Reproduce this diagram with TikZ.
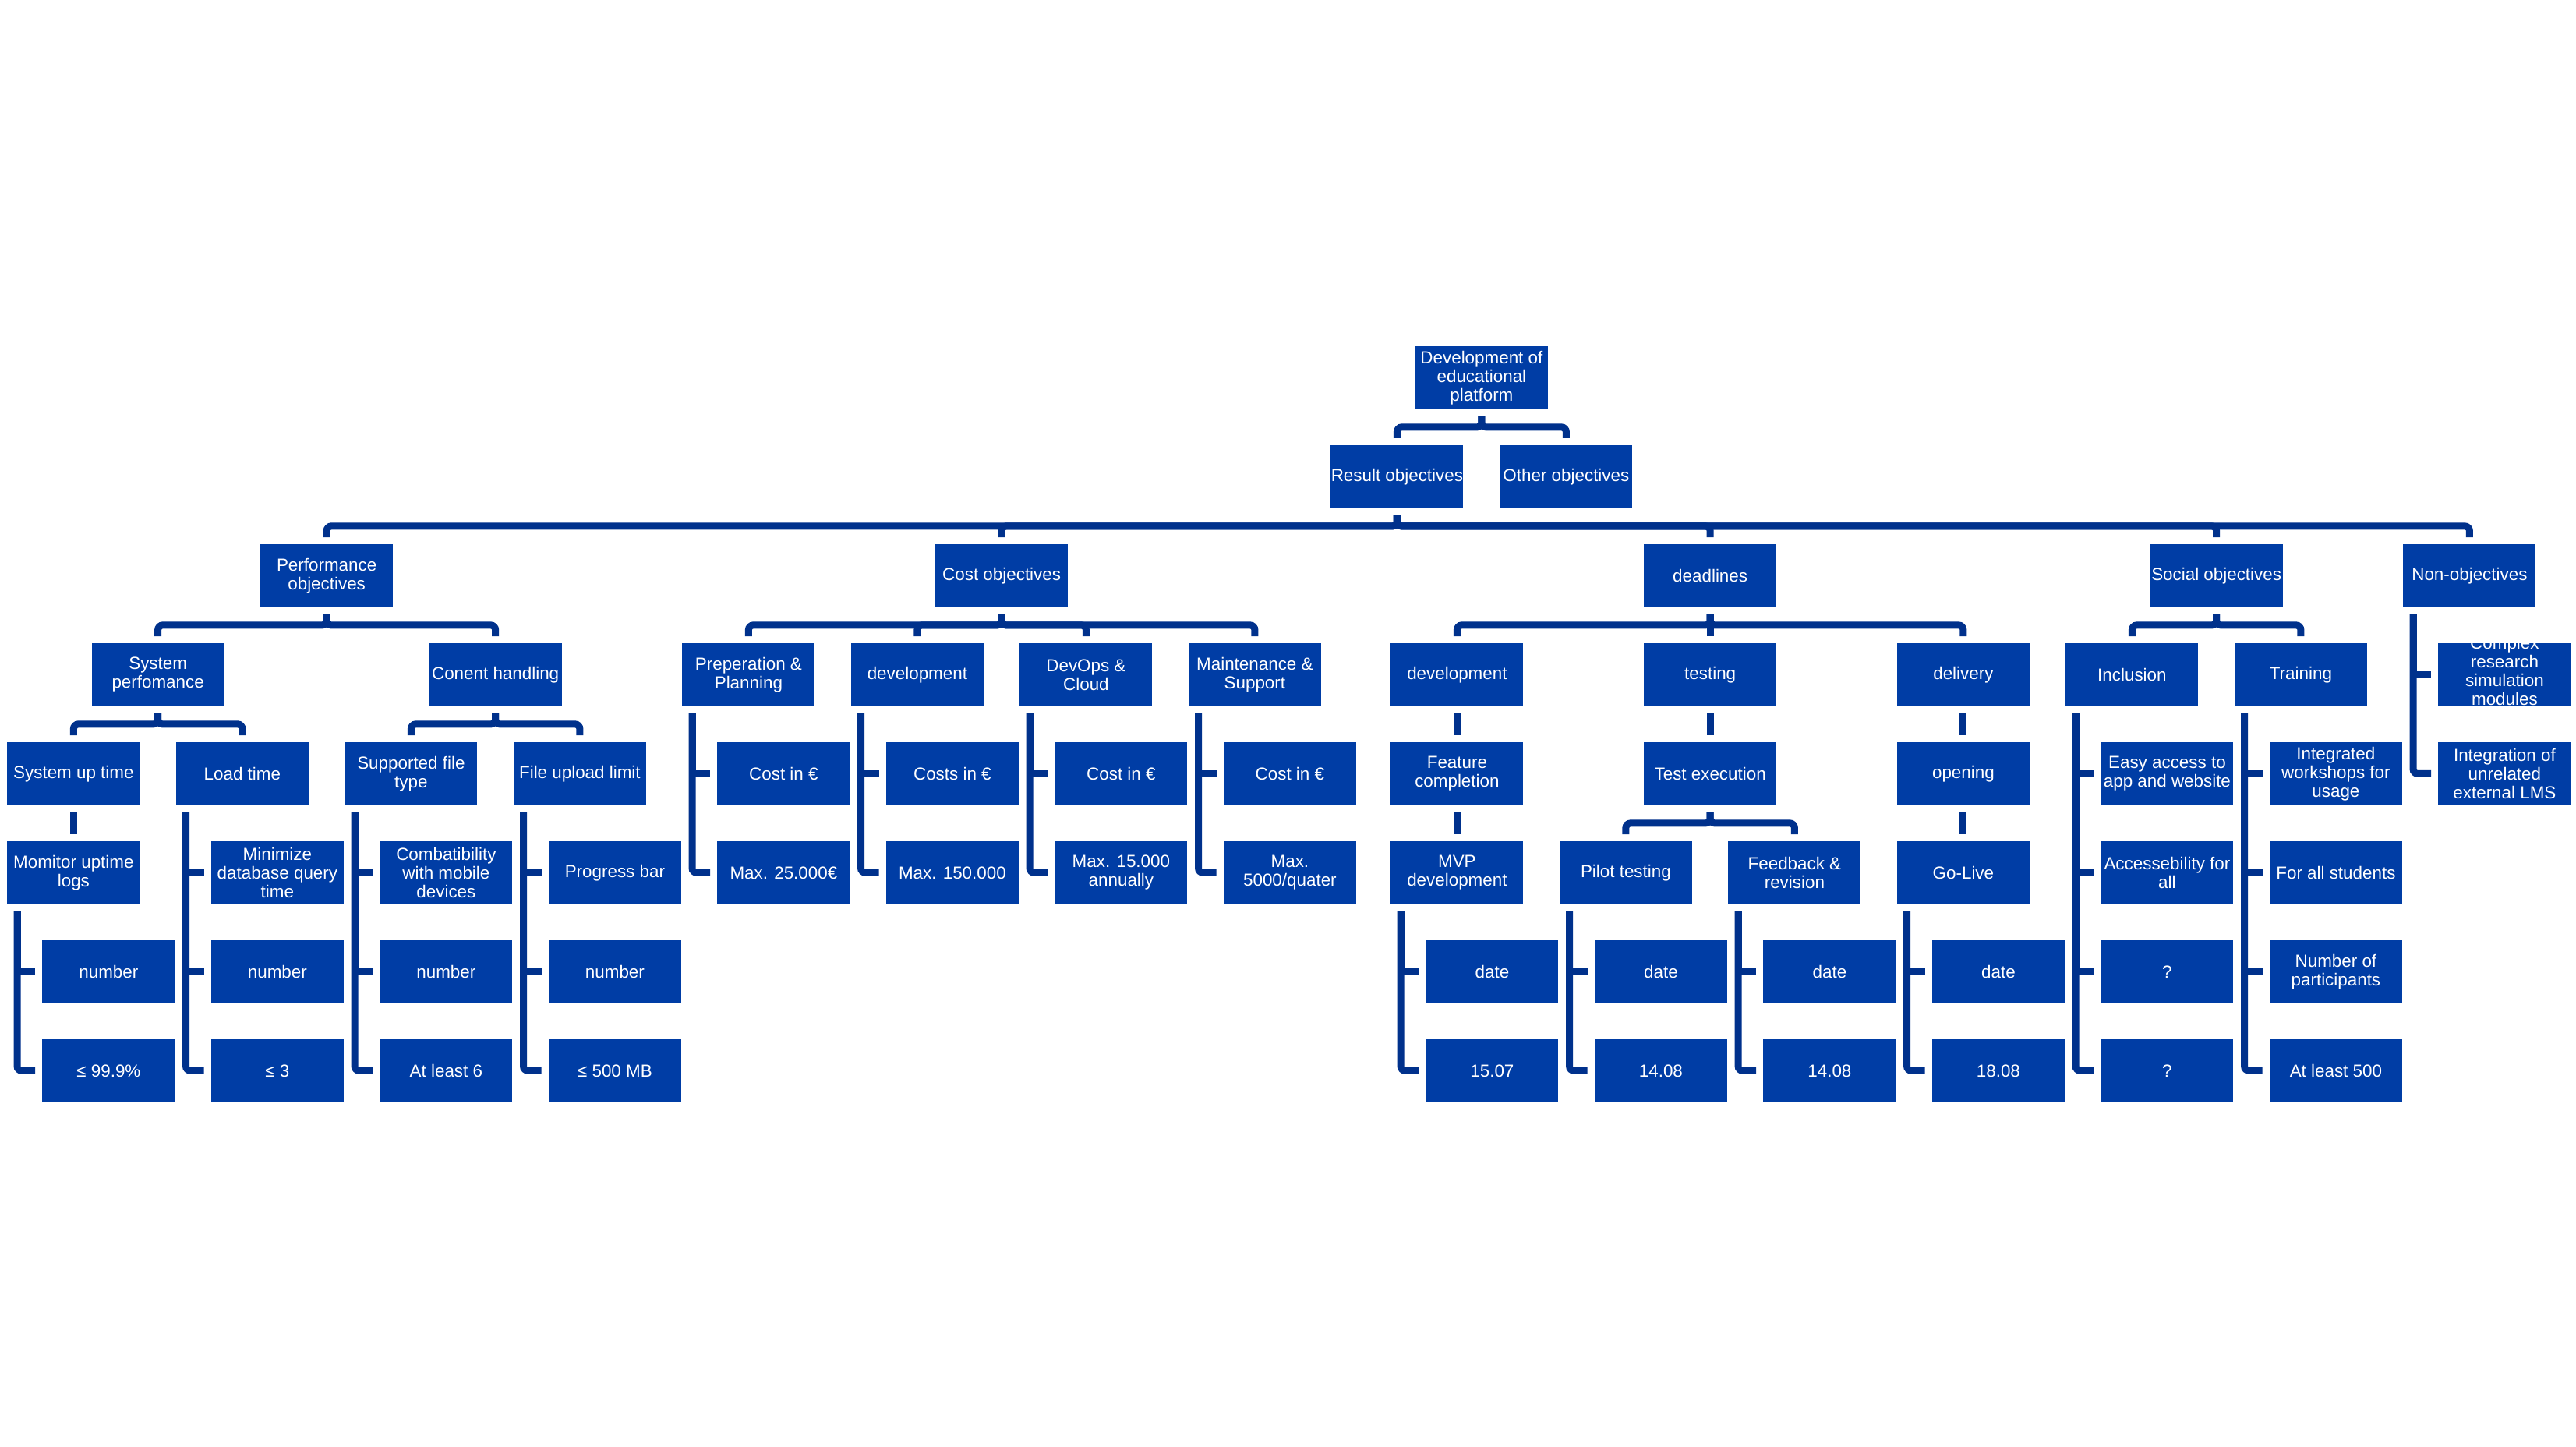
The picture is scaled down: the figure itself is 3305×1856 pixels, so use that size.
\documentclass[tikz,border=0pt]{standalone}
\usepackage{fontspec}
\setmainfont{Liberation Sans}
\usetikzlibrary{calc}
\definecolor{boxblue}{RGB}{0,61,165}
\definecolor{linkblue}{RGB}{0,49,140}
\tikzset{
  box/.style={fill=boxblue, text=white, minimum width=85pt, minimum height=40pt,
    inner sep=0pt, align=center, anchor=north west,
    font=\fontsize{11.2pt}{12pt}\selectfont},
  conn/.style={draw=linkblue, line width=4.5pt, rounded corners=3pt,
    shorten <=4.5pt, shorten >=4.5pt},
}
% parent -> child through a horizontal bar half way between the rows
\newcommand\orgedge[2]{\draw[conn] (#1.south) |- ($(#1.south)!0.5!(#2.north)$) -| (#2.north);}
% straight drop to a single child
\newcommand\stemedge[2]{\draw[conn] (#1.south) -- (#2.north);}
% hanging list: spine along the left of the parent, tick into each child
\newcommand\hangedge[2]{\draw[conn] ([xshift=6.5pt]#1.south west) |- (#2.west);}
\newcommand\hangmid[2]{\draw[conn, sharp corners] ([xshift=6.5pt]#1.south west) |- (#2.west);}
\begin{document}
\begin{tikzpicture}[x=0.5pt, y=-0.5pt]
\fill[white] (0,0) rectangle (3305,1856);
\useasboundingbox (0,0) rectangle (3305,1856);

% top levels
\node[box] (root) at (1815.5,444) {Development of\\educational\\platform};
\node[box] (res)  at (1707,571) {Result objectives};
\node[box] (oth)  at (1924,571) {Other objectives};

\node[box] (perf) at (333.75,698)  {Performance\\objectives};
\node[box] (cost) at (1199.75,698) {Cost objectives};
\node[box] (dead) at (2108.75,698) {deadlines};
\node[box] (soc)  at (2758.25,698) {Social objectives};
\node[box] (non)  at (3083,698)    {Non-objectives};

% performance objectives
\node[box] (sysp) at (117.25,825) {System\\perfomance};
\node[box] (cont) at (550.25,825) {Conent handling};
\node[box] (sut)  at (9,952)     {System up time};
\node[box] (lt)   at (225.5,952) {Load time};
\node[box] (sft)  at (442,952)   {Supported file\\type};
\node[box] (ful)  at (658.5,952) {File upload limit};
\node[box] (mon)  at (9,1079)    {Momitor uptime\\logs};
\node[box] (sutA) at (54,1206)   {number};
\node[box] (sutB) at (54,1333)   {≤ 99.9\%};
\node[box] (ltA)  at (270.5,1079) {Minimize\\database query\\time};
\node[box] (ltB)  at (270.5,1206) {number};
\node[box] (ltC)  at (270.5,1333) {≤ 3};
\node[box] (sftA) at (487,1079) {Combatibility\\with mobile\\devices};
\node[box] (sftB) at (487,1206) {number};
\node[box] (sftC) at (487,1333) {At least 6};
\node[box] (fulA) at (703.5,1079) {Progress bar};
\node[box] (fulB) at (703.5,1206) {number};
\node[box] (fulC) at (703.5,1333) {≤ 500 MB};

% cost objectives
\node[box] (prep)    at (875,825)    {Preperation \&\\Planning};
\node[box] (prepA)   at (920,952)    {Cost in €};
\node[box] (prepB)   at (920,1079)   {Max. 25.000€};
\node[box] (cdev)    at (1091.5,825) {development};
\node[box] (cdevA)   at (1136.5,952) {Costs in €};
\node[box] (cdevB)   at (1136.5,1079) {Max. 150.000};
\node[box] (devops)  at (1308,825)   {DevOps \&\\Cloud};
\node[box] (devopsA) at (1353,952)   {Cost in €};
\node[box] (devopsB) at (1353,1079)  {Max. 15.000\\annually};
\node[box] (maint)   at (1524.5,825) {Maintenance \&\\Support};
\node[box] (maintA)  at (1569.5,952) {Cost in €};
\node[box] (maintB)  at (1569.5,1079) {Max.\\5000/quater};

% deadlines
\node[box] (ddev)   at (1784,825)    {development};
\node[box] (feat)   at (1784,952)    {Feature\\completion};
\node[box] (mvp)    at (1784,1079)   {MVP\\development};
\node[box] (mvpA)   at (1829,1206)   {date};
\node[box] (mvpB)   at (1829,1333)   {15.07};
\node[box] (test)   at (2108.75,825) {testing};
\node[box] (texe)   at (2108.75,952) {Test execution};
\node[box] (pilot)  at (2000.5,1079) {Pilot testing};
\node[box] (pilotA) at (2045.5,1206) {date};
\node[box] (pilotB) at (2045.5,1333) {14.08};
\node[box] (feed)   at (2217,1079)   {Feedback \&\\revision};
\node[box] (feedA)  at (2262,1206)   {date};
\node[box] (feedB)  at (2262,1333)   {14.08};
\node[box] (deliv)  at (2433.5,825)  {delivery};
\node[box] (open)   at (2433.5,952)  {opening};
\node[box] (golive) at (2433.5,1079) {Go-Live};
\node[box] (goA)    at (2478.5,1206) {date};
\node[box] (goB)    at (2478.5,1333) {18.08};

% social objectives
\node[box] (incl)   at (2650,825)    {Inclusion};
\node[box] (inclA)  at (2695,952)    {Easy access to\\app and website};
\node[box] (inclB)  at (2695,1079)   {Accessebility for\\all};
\node[box] (inclC)  at (2695,1206)   {?};
\node[box] (inclD)  at (2695,1333)   {?};
\node[box] (train)  at (2866.5,825)  {Training};
\node[box] (trainA) at (2911.5,952)  {Integrated\\workshops for\\usage};
\node[box] (trainB) at (2911.5,1079) {For all students};
\node[box] (trainC) at (2911.5,1206) {Number of\\participants};
\node[box] (trainD) at (2911.5,1333) {At least 500};

% non-objectives (four lines run past the box edges)
\node[box] (nonA) at (3128,825) {\raisebox{-4pt}{\smash{\begin{tabular}{@{}c@{}}Complex\\research\\simulation\\modules\end{tabular}}}};
\node[box] (nonB) at (3128,952) {Integration of\\unrelated\\external LMS};

% connectors
\orgedge{root}{res} \orgedge{root}{oth}
\orgedge{res}{perf} \orgedge{res}{cost} \orgedge{res}{dead}
\orgedge{res}{soc}  \orgedge{res}{non}

\orgedge{perf}{sysp} \orgedge{perf}{cont}
\orgedge{sysp}{sut} \orgedge{sysp}{lt}
\orgedge{cont}{sft} \orgedge{cont}{ful}
\stemedge{sut}{mon}
\hangmid{mon}{sutA} \hangedge{mon}{sutB}
\hangmid{lt}{ltA} \hangmid{lt}{ltB} \hangedge{lt}{ltC}
\hangmid{sft}{sftA} \hangmid{sft}{sftB} \hangedge{sft}{sftC}
\hangmid{ful}{fulA} \hangmid{ful}{fulB} \hangedge{ful}{fulC}

\orgedge{cost}{prep} \orgedge{cost}{cdev} \orgedge{cost}{devops} \orgedge{cost}{maint}
\hangmid{prep}{prepA} \hangedge{prep}{prepB}
\hangmid{cdev}{cdevA} \hangedge{cdev}{cdevB}
\hangmid{devops}{devopsA} \hangedge{devops}{devopsB}
\hangmid{maint}{maintA} \hangedge{maint}{maintB}

\orgedge{dead}{ddev} \stemedge{dead}{test} \orgedge{dead}{deliv}
\stemedge{ddev}{feat} \stemedge{feat}{mvp}
\stemedge{test}{texe}
\orgedge{texe}{pilot} \orgedge{texe}{feed}
\stemedge{deliv}{open} \stemedge{open}{golive}
\hangmid{mvp}{mvpA} \hangedge{mvp}{mvpB}
\hangmid{pilot}{pilotA} \hangedge{pilot}{pilotB}
\hangmid{feed}{feedA} \hangedge{feed}{feedB}
\hangmid{golive}{goA} \hangedge{golive}{goB}

\orgedge{soc}{incl} \orgedge{soc}{train}
\hangmid{incl}{inclA} \hangmid{incl}{inclB} \hangmid{incl}{inclC} \hangedge{incl}{inclD}
\hangmid{train}{trainA} \hangmid{train}{trainB} \hangmid{train}{trainC} \hangedge{train}{trainD}

\hangmid{non}{nonA} \hangedge{non}{nonB}
\end{tikzpicture}
\end{document}
